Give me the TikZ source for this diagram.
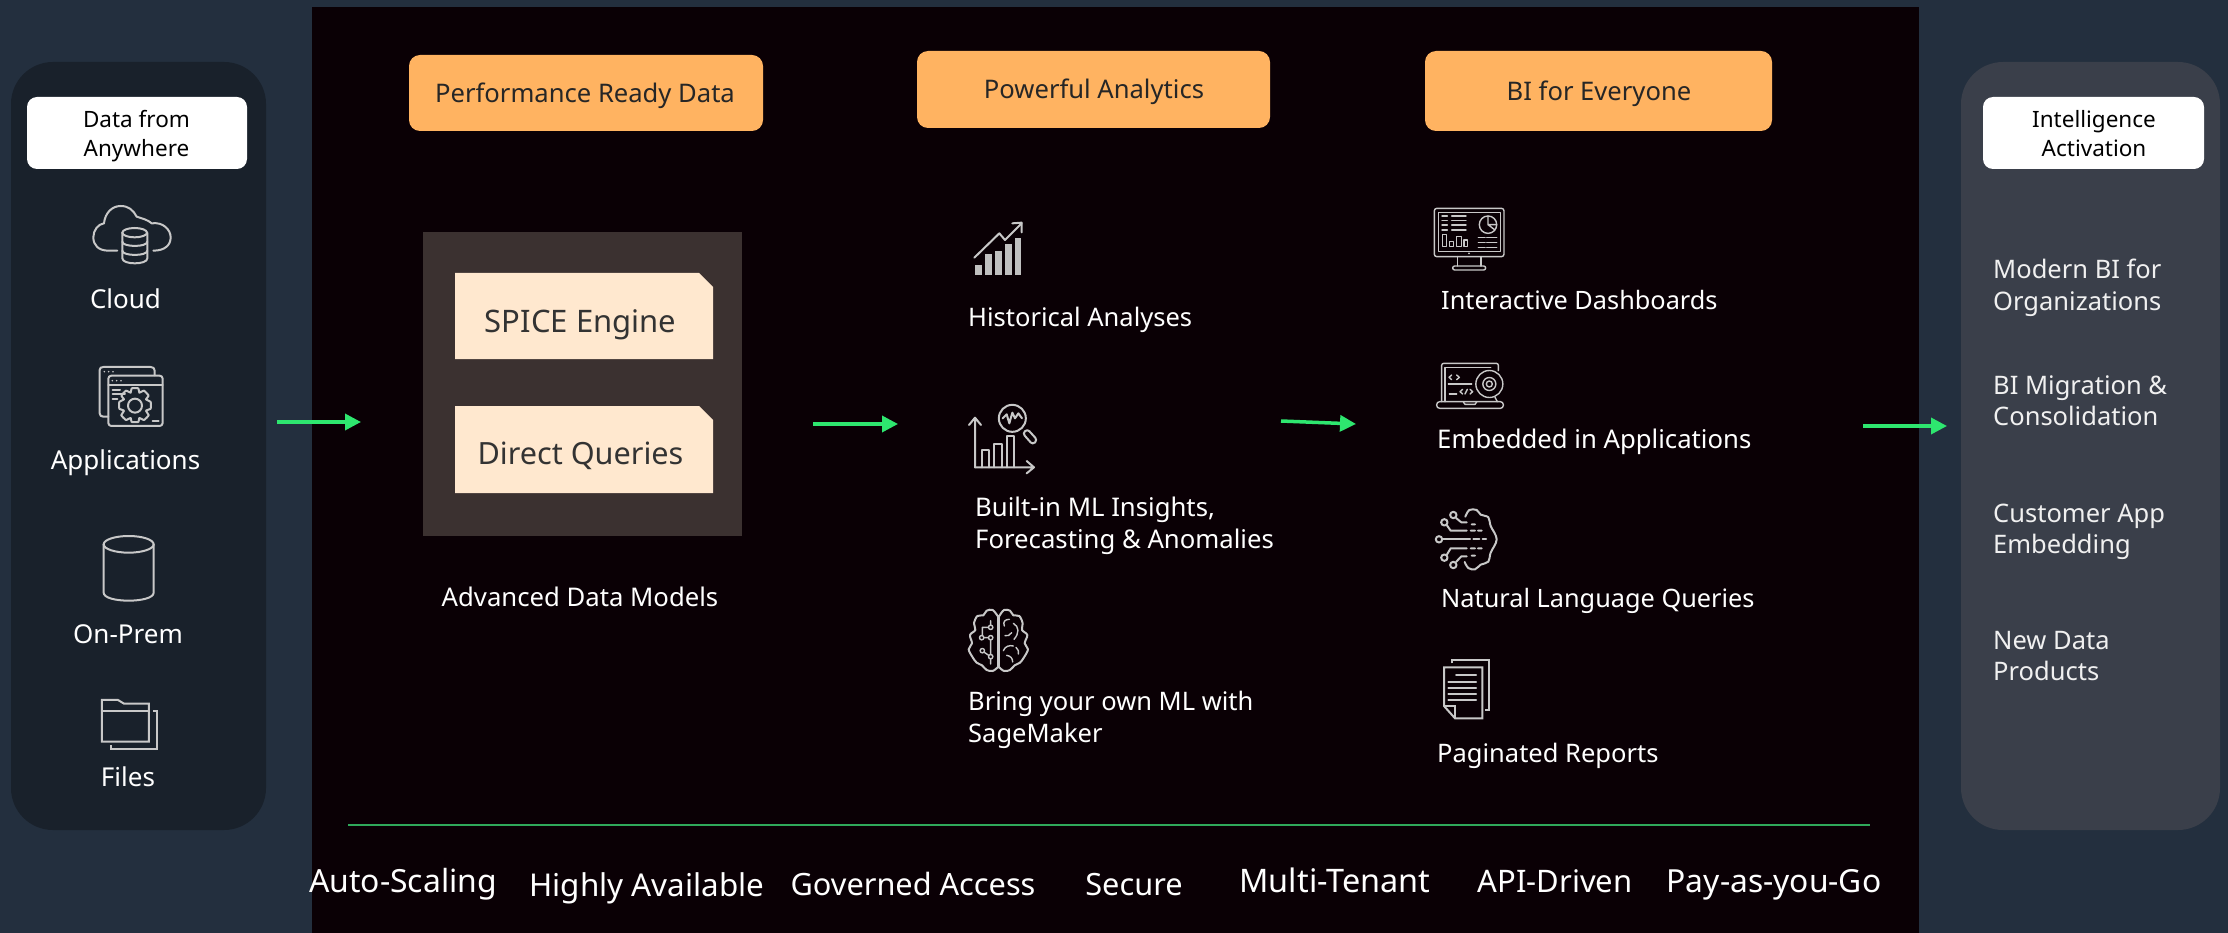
\documentclass[tikz,border=0pt]{standalone}
\usepackage{fontspec}
\setmainfont{Noto Sans}
\usetikzlibrary{arrows.meta,shapes.misc}
\definecolor{bgc}{HTML}{232F3E}
\definecolor{blackp}{HTML}{0A0005}
\definecolor{leftp}{HTML}{19212B}
\definecolor{rightp}{HTML}{3A3F4A}
\definecolor{orangeb}{HTML}{FFB361}
\definecolor{modelb}{HTML}{3B3130}
\definecolor{peach}{HTML}{FFE8CF}
\definecolor{arrowg}{HTML}{2EE66F}
\definecolor{lineg}{HTML}{2FA85A}
\definecolor{icong}{HTML}{C8C8C8}
\newcommand{\fs}[1]{\fontsize{#1}{#1}\selectfont}
\tikzset{
  x=1pt,y=-1pt,
  txt/.style={text=white,inner sep=0pt,font=\fs{25.5},align=left,anchor=west},
  ctxt/.style={text=white,inner sep=0pt,font=\fs{26},align=center,anchor=center},
  hdrtxt/.style={text=black,inner sep=0pt,font=\fs{22.5},align=center,anchor=center},
  orangetxt/.style={text=black!85,inner sep=0pt,font=\fs{25.6},anchor=center},
  peachtxt/.style={text=black!80,inner sep=0pt,font=\fs{31},anchor=center},
  bottxt/.style={text=white,inner sep=0pt,anchor=base},
  flow/.style={draw=arrowg,line width=3.5pt,-{Triangle[length=16pt,width=16pt]},fill=arrowg},
  ico/.style={draw=icong,line width=2pt,line join=round,line cap=round},
  icot/.style={draw=icong,line width=1.4pt,line join=round,line cap=round},
}
\newcommand{\zoomscope}[2]{\begin{scope}[shift={(#1,#2)},x=.33333pt,y=-.33333pt]}
\begin{document}
\begin{tikzpicture}
\useasboundingbox (0,0) rectangle (2228,933);
\fill[bgc] (0,0) rectangle (2228,933);
\fill[blackp] (312,7) rectangle (1919,933);
\fill[leftp,rounded corners=42pt] (11,62) rectangle (266,830);
\fill[rightp,rounded corners=42pt] (1961,62) rectangle (2220,830);

% left panel
\fill[white,rounded corners=10pt] (27,97) rectangle (247,169);
\node[hdrtxt] (hdrL) at (136.5,136) {Data from\\[6.5pt]Anywhere};
\node[ctxt] (cloud) at (125.5,299) {Cloud};
\node[ctxt] (apps) at (125.5,463) {Applications};
\node[ctxt] (onprem) at (128,634) {On-Prem};
\node[ctxt] (files) at (128,777) {Files};

% cloud icon
\zoomscope{0}{40}
\draw[ico] (352,632) -- (325,632) .. controls (295,632) and (280,615) .. (280,592) .. controls (280,570) and (295,552) .. (312,550) .. controls (315,520) and (335,498) .. (362,498) .. controls (385,498) and (400,510) .. (410,530) .. controls (425,535) and (445,540) .. (455,550) .. controls (490,545) and (512,570) .. (512,592) .. controls (512,615) and (495,632) .. (460,632);
\draw[ico] (367,578) -- (367,655) .. controls (367,675) and (442,675) .. (442,655) -- (442,578);
\draw[ico] (404,578) ellipse [x radius=37,y radius=14];
\draw[ico] (367,605) .. controls (367,622) and (442,622) .. (442,605);
\draw[ico] (367,632) .. controls (367,649) and (442,649) .. (442,632);
\end{scope}

% applications icon
\zoomscope{0}{40}
\draw[ico] (325,1130) -- (310,1130) .. controls (303,1130) and (299,1126) .. (299,1120) -- (299,990) .. controls (299,984) and (303,981) .. (310,981) -- (452,981) .. controls (460,981) and (464,985) .. (464,992) -- (464,1006);
\draw[ico,rounded corners=3pt] (325,1007) rectangle (488,1158);
\draw[ico] (325,1035) -- (488,1035);
\foreach \xx in {337,350,363} \fill[icong] (\xx,1022) circle [radius=.9pt];
\foreach \xx in {313,326,339} \fill[icong] (\xx,995) circle [radius=.9pt];
\draw[ico] (338,1050) -- (360,1050) (338,1063) -- (375,1063)(338,1078) -- (352,1078) (458,1144)--(476,1144);
\draw[ico] plot[smooth cycle,tension=.25] coordinates {(395,1045)(415,1045)(418,1058)(432,1052)(446,1067)(438,1078)(452,1086)(452,1106)(438,1112)(446,1126)(432,1140)(418,1134)(415,1146)(395,1146)(392,1134)(378,1140)(364,1126)(372,1112)(358,1106)(358,1086)(372,1078)(364,1067)(378,1052)(392,1058)};
\draw[ico] (405,1097) circle [radius=7pt];
\end{scope}

% on-prem icon
\zoomscope{0}{440}
\draw[ico] (386,313) ellipse [x radius=75,y radius=25];
\draw[ico] (311,313) -- (311,458) .. controls (311,490) and (461,490) .. (461,458) -- (461,313);
\end{scope}

% files icon
\zoomscope{0}{440}
\draw[ico,line cap=butt,line join=miter] (306,905) -- (306,780) -- (354,780) -- (372,791) -- (447,791) -- (447,905) -- cycle;
\draw[ico] (306,812) -- (447,812);
\draw[ico,line cap=butt,line join=miter] (460,814) -- (471,814) -- (471,927) -- (334,927) -- (334,914);
\end{scope}

% main top boxes
\fill[orangeb,rounded corners=11pt] (409,55) rectangle (763,131);
\fill[orangeb,rounded corners=11pt] (917,51) rectangle (1270,128);
\fill[orangeb,rounded corners=11pt] (1425,51) rectangle (1772,131);
\node[orangetxt] (perf) at (585,96) {Performance Ready Data};
\node[orangetxt] (anal) at (1094,92) {Powerful Analytics};
\node[orangetxt] (bi) at (1599,94) {BI for Everyone};

% model block
\fill[modelb] (423,232) rectangle (742,536);
\fill[peach] (455,273) -- (699,273) -- (713,287) -- (713,359) -- (455,359) -- cycle;
\fill[peach] (455,406) -- (699,406) -- (713,420) -- (713,493) -- (455,493) -- cycle;
\node[peachtxt] (spice) at (580.5,325) {SPICE Engine};
\node[peachtxt,font=\fs{30.6}] (direct) at (580.5,456) {Direct Queries};
\node[ctxt,font=\fs{25.7}] (adm) at (580,597) {Advanced Data Models};

% analytics column
\node[txt] (hist) at (968,320) {Historical Analyses};
\node[txt,font=\fs{25.7}] (ml) at (975,526) {Built-in ML Insights,\\[6pt]Forecasting \& Anomalies};
\node[txt] (byo) at (968,720) {Bring your own ML with\\[6pt]SageMaker};

% growth chart icon
\zoomscope{950}{200}
\foreach \xa/\xb/\yt in {76/96/195,105/126/163,135/155/154,165/185/133,194/214/113}
  \fill[icong!115] (\xa,\yt) rectangle (\xb,225);
\draw[ico] (73,173) -- (148,100) -- (165,120) -- (215,70);
\draw[ico] (187,70) -- (215,68) -- (215,97);
\end{scope}

% ML insight icon
\zoomscope{950}{380}
\draw[ico] (75,262) -- (75,115) (57,135) -- (75,113) -- (93,135);
\draw[ico] (75,262) -- (250,262) (230,243) -- (252,262) -- (230,280);
\draw[ico] (95,262) -- (95,210) -- (118,210) -- (118,262);
\draw[ico] (132,262) -- (132,192) -- (155,192) -- (155,262);
\draw[ico] (170,262) -- (170,167) -- (193,167) -- (193,262);
\draw[ico] (187,115) circle [radius=13.5pt];
\draw[ico] (158,115) -- (170,103) -- (178,130) -- (187,98) -- (195,115) -- (205,100) -- (216,115);
\draw[ico,rounded corners=3pt] (218,160) -- (232,147) -- (262,180) -- (248,194) -- cycle;
\end{scope}

% brain icon
\zoomscope{950}{590}
\draw[ico] plot[smooth,tension=.55] coordinates {(143,78)(128,60)(110,62)(100,76)(82,78)(72,100)(76,120)(60,135)(66,160)(56,178)(68,202)(80,218)(96,226)(110,240)(128,243)(143,232)};
\draw[ico] plot[smooth,tension=.55] coordinates {(148,78)(162,60)(180,62)(190,76)(208,78)(218,100)(216,120)(232,135)(224,160)(234,178)(222,202)(210,218)(194,226)(180,240)(162,243)(148,232)};
\draw[ico] (143,78) -- (143,232) (148,78) -- (148,232);
\draw[icot] (122,112) circle [radius=2.2pt] (95,143) circle [radius=2.2pt] (122,143) circle [radius=2.2pt] (97,182) circle [radius=2.2pt] (122,200) circle [radius=2.2pt];
\draw[icot] (122,92) -- (122,105) (115,112) -- (97,112) -- (97,136) (102,143) -- (115,143) (122,150) -- (122,193) (103,187) -- (116,196) (122,207) -- (122,222);
\draw[icot] (163,108) .. controls (158,95) and (165,88) .. (178,88);
\draw[icot] (190,100) .. controls (208,110) and (208,130) .. (192,148);
\draw[icot] (165,137) .. controls (172,140) and (180,135) .. (185,128);
\draw[icot] (160,182) .. controls (165,168) and (180,165) .. (190,168);
\draw[icot] (198,172) .. controls (205,178) and (207,185) .. (205,192);
\draw[icot] (170,196) .. controls (182,198) and (188,205) .. (188,216);
\end{scope}

% BI column
\node[txt,font=\fs{25.3}] (dash) at (1441,300) {Interactive Dashboards};
\node[txt,font=\fs{25.7}] (emb) at (1437,442) {Embedded in Applications};
\node[txt,font=\fs{25.3}] (nlq) at (1441,601) {Natural Language Queries};
\node[txt] (pag) at (1437,756) {Paginated Reports};

% monitor icon
\zoomscope{1420}{190}
\draw[icot,rounded corners=2.5pt] (43,55) rectangle (252,200);
\draw[icot] (55,68) rectangle (242,185);
\fill[icong] (147,190) circle [radius=1pt];
\draw[icot] (112,200) -- (112,228) (183,200) -- (183,228);
\draw[icot,rounded corners=2pt] (98,228) rectangle (197,240);
\draw[icot] (204,104) circle [radius=8.7pt];
\draw[icot] (204,78) -- (204,104) -- (225,120) (204,104) -- (230,104);
\foreach \yy in {78,92,105,120} \draw[icot] (66,\yy) -- (82,\yy) (95,\yy) -- (138,\yy);
\draw[icot] (68,133) rectangle (80,170) (88,155) rectangle (100,170) (110,140) rectangle (125,170) (132,150) rectangle (143,170);
\foreach \yy in {143,157,172} \draw[icot] (175,\yy) -- (195,\yy) (200,\yy) -- (230,\yy);
\end{scope}

% laptop icon
\zoomscope{1420}{340}
\draw[icot,rounded corners=2pt] (65,185) -- (65,70) -- (235,70) -- (235,92);
\draw[icot] (75,185) -- (75,82) -- (212,82);
\draw[icot] (225,172) -- (232,185);
\draw[icot,rounded corners=3pt] (50,185) rectangle (250,205);
\draw[icot] (130,186) -- (135,193) -- (165,193) -- (170,186);
\draw[icot] (208,132) circle [radius=13.5pt];
\draw[icot] (208,132) circle [radius=6.5pt];
\draw[icot] (208,132) circle [radius=3pt];
\draw[icot] (95,105) -- (87,112) -- (95,119) (110,105) -- (118,112) -- (110,119);
\draw[icot] (85,132) -- (155,132) (88,162) -- (110,162);
\draw[icot] (128,148) -- (120,155) -- (128,162) (135,162) -- (142,148) (150,148) -- (158,155) -- (150,162);
\end{scope}

% NLQ icon
\zoomscope{1420}{490}
\draw[ico] plot[smooth,tension=.6] coordinates {(136,80)(148,60)(170,60)(182,74)(205,82)(212,108)(230,148)(212,188)(205,215)(182,224)(165,238)(145,234)(134,216)};
\draw[ico] (57,148) circle [radius=3.2pt] (73,97) circle [radius=3.2pt] (100,75) circle [radius=3.2pt] (73,203) circle [radius=3.2pt] (100,225) circle [radius=3.2pt];
\draw[ico] (67,148) -- (150,148) (160,148) -- (178,148) (188,148) -- (198,148);
\draw[ico] (80,105) -- (92,122) -- (140,122) (152,122) -- (165,122) (174,122) -- (185,122);
\draw[ico] (108,84) -- (124,97) -- (140,97) (155,103) -- (165,103);
\draw[ico] (80,195) -- (92,175) -- (140,175) (152,175) -- (165,175) (174,175) -- (185,175);
\draw[ico] (108,216) -- (124,199) -- (140,199) (155,197) -- (165,197);
\end{scope}

% document icon
\zoomscope{1420}{640}
\draw[ico,line cap=butt,line join=miter] (72,82) -- (187,82) -- (187,235) -- (105,235) -- (72,198) -- cycle;
\draw[ico,line cap=butt,line join=miter] (72,198) -- (105,198) -- (105,235);
\draw[ico,line cap=butt,line join=miter] (95,70) -- (95,60) -- (208,60) -- (208,210) -- (195,210);
\draw[ico] (108,105) -- (168,105) (85,125) -- (168,125) (85,144) -- (168,144) (85,162) -- (168,162) (85,181) -- (168,181);
\end{scope}

% right panel
\fill[white,rounded corners=10pt] (1983,97) rectangle (2204,169);
\node[hdrtxt] (hdrR) at (2094,134) {Intelligence\\[6.5pt]Activation};
\node[txt,text=white!94!black] (r1) at (1993,288) {Modern BI for\\[6pt]Organizations};
\node[txt,text=white!94!black] (r2) at (1993,400.5) {BI Migration \&\\[6pt]Consolidation};
\node[txt,text=white!94!black] (r3) at (1993,532) {Customer App\\[6pt]Embedding};
\node[txt,text=white!94!black] (r4) at (1993,656) {New Data\\[6pt]Products};

% flow arrows
\coordinate (a1s) at (277,422); \coordinate (a1e) at (361,422);
\coordinate (a2s) at (813,424); \coordinate (a2e) at (898,424);
\coordinate (a3s) at (1281,421); \coordinate (a3e) at (1356,424);
\coordinate (a4s) at (1863,426); \coordinate (a4e) at (1947,426);
\draw[flow] (a1s) -- (a1e);
\draw[flow] (a2s) -- (a2e);
\draw[flow] (a3s) -- (a3e);
\draw[flow] (a4s) -- (a4e);

% divider and bottom labels
\coordinate (ls) at (348,825); \coordinate (le) at (1870,825);
\draw[lineg,line width=2pt] (ls) -- (le);
\node[bottxt,font=\fs{31.9}] (b1) at (403,892) {Auto-Scaling};
\node[bottxt,font=\fs{31.4}] (b2) at (647,896) {Highly Available};
\node[bottxt,font=\fs{30.7}] (b3) at (913,895) {Governed Access};
\node[bottxt,font=\fs{30.7}] (b4) at (1134,895) {Secure};
\node[bottxt,font=\fs{32.4}] (b5) at (1335,892) {Multi-Tenant};
\node[bottxt,font=\fs{31}] (b6) at (1555,892) {API-Driven};
\node[bottxt,font=\fs{31.8}] (b7) at (1774,892) {Pay-as-you-Go};
\end{tikzpicture}
\end{document}
